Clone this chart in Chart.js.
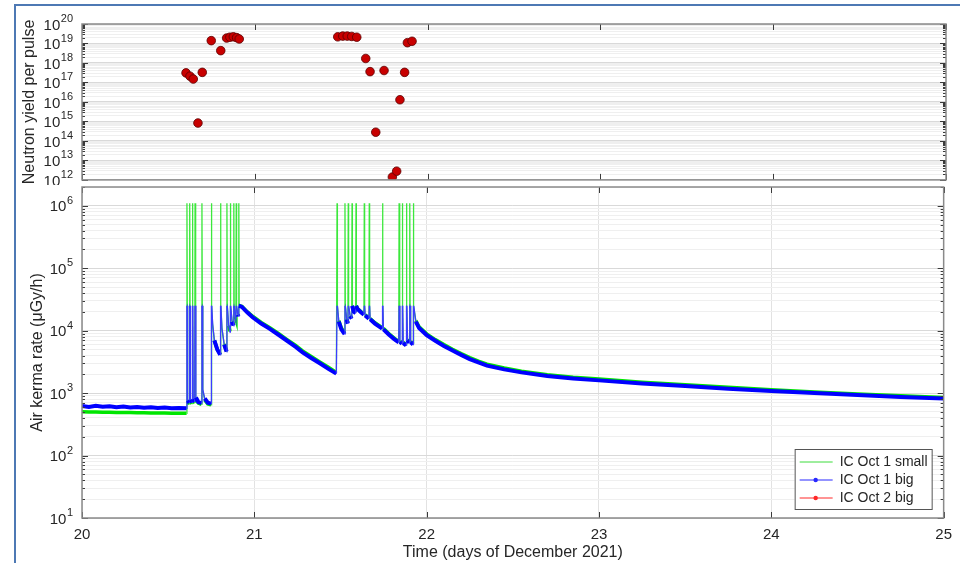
<!DOCTYPE html>
<html>
<head>
<meta charset="utf-8">
<script src="https://cdn.jsdelivr.net/npm/chart.js@4.4.1/dist/chart.umd.min.js"></script>
<style>
  html, body { margin: 0; padding: 0; background: #fff; }
  #page { position: relative; width: 960px; height: 563px; overflow: hidden; }
  #frame { position: absolute; left: 14px; top: 4px; width: 960px; height: 570px;
           border-left: 2px solid #4e79b4; border-top: 2px solid #4e79b4; }
  canvas { position: absolute; left: 0; }
  #yieldChart { top: 0; width: 960px; height: 185px; }
  #rateChart { top: 185px; width: 960px; height: 378px; }
</style>
</head>
<body>
<div id="page">
  <div id="frame"></div>
  <canvas id="yieldChart" width="960" height="185"></canvas>
  <canvas id="rateChart" width="960" height="378"></canvas>
</div>
<script>
// ---- data ----

// shots: day of December 2021 and neutron yield per pulse
const shotDay = [20.602, 20.625, 20.644, 20.671, 20.696, 20.748, 20.803, 20.837, 20.856, 20.876, 20.895, 20.910,
                 21.480, 21.509, 21.535, 21.561, 21.590, 21.642, 21.667, 21.700, 21.748, 21.796, 21.821, 21.840,
                 21.867, 21.883, 21.910];
const shotYield = [3.1e17, 2.1e17, 1.5e17, 8.3e14, 3.3e17, 1.4e19, 4.3e18, 1.9e19, 2.1e19, 2.2e19, 2.0e19, 1.7e19,
                   2.2e19, 2.4e19, 2.4e19, 2.3e19, 2.1e19, 1.7e18, 3.6e17, 2.8e14, 4.1e17, 1.4e12, 2.8e12, 1.3e16,
                   3.3e17, 1.1e19, 1.3e19];

// x axis days, decade exponents of the two log axes
const dayTicks = [20, 21, 22, 23, 24, 25];
const yieldExp = [12, 13, 14, 15, 16, 17, 18, 19, 20];
const rateExp = [1, 2, 3, 4, 5, 6];

// ionisation chamber readings (uGy/h) on a shared time base
const traceDay = [
  // background
  20.00, 20.04, 20.08, 20.12, 20.16, 20.20, 20.24, 20.28, 20.32, 20.36, 20.40, 20.44, 20.48, 20.52, 20.56, 20.607,
  // first shot day
  20.609, 20.611, 20.613, 20.623, 20.625, 20.627, 20.629, 20.639,
  20.641, 20.643, 20.645, 20.654, 20.656, 20.658, 20.661, 20.675,
  20.694, 20.696, 20.698, 20.701, 20.712, 20.730, 20.749, 20.751,
  20.753, 20.758, 20.768, 20.785, 20.802, 20.804, 20.806, 20.812,
  20.825, 20.839, 20.841, 20.843, 20.851, 20.859, 20.861, 20.863,
  20.871, 20.879, 20.881, 20.883, 20.889, 20.893, 20.895, 20.897,
  20.904, 20.908, 20.910, 20.912, 20.928,
  // overnight decay
  20.96, 20.99, 21.04, 21.09, 21.14, 21.19, 21.24, 21.28, 21.33, 21.38, 21.43, 21.476,
  // second shot day
  21.480, 21.482, 21.490, 21.505, 21.524, 21.526, 21.528, 21.536,
  21.543, 21.545, 21.547, 21.556, 21.565, 21.567, 21.569, 21.578,
  21.588, 21.590, 21.592, 21.600, 21.620, 21.636, 21.638, 21.640,
  21.643, 21.665, 21.667, 21.669, 21.672, 21.700, 21.742, 21.744,
  21.746, 21.749, 21.780, 21.810, 21.838, 21.840, 21.842, 21.845,
  21.857, 21.859, 21.861, 21.864, 21.881, 21.883, 21.885, 21.889,
  21.900, 21.902, 21.904, 21.907, 21.921, 21.923, 21.925,
  // long decay
  21.937, 21.956, 22.00, 22.05, 22.10, 22.15, 22.20, 22.25, 22.30, 22.35, 22.45, 22.55,
  22.70, 22.85, 23.00, 23.25, 23.50, 23.75, 24.00, 24.25, 24.50, 24.75, 25.00
];

const bigRate = [
  620, 600, 625, 605, 615, 595, 610, 590, 600, 585, 595, 580, 590, 575, 580, 570,
  25000, 25000, 760, 700, 25000, 25000, 780, 710,
  25000, 25000, 800, 720, 25000, 25000, 850, 720,
  690, 25000, 25000, 1150, 820, 700, 680, 25000,
  25000, 13000, 7000, 5000, 4100, 25000, 25000, 11000,
  6000, 4600, 25000, 25000, 12000, 9500, 25000, 25000,
  14000, 12000, 25000, 25000, 17000, 15000, 25000, 25000,
  18000, 17000, 25000, 25000, 24000,
  19500, 16400, 13000, 10700, 8600, 6900, 5500, 4500, 3650, 3000, 2450, 2050,
  25000, 25000, 14000, 10500, 8800, 25000, 25000, 15000,
  13000, 25000, 25000, 17000, 15500, 25000, 25000, 20000,
  19000, 25000, 25000, 22000, 19500, 18000, 25000, 25000,
  17500, 15600, 25000, 25000, 15200, 13000, 10800, 25000,
  25000, 10500, 8700, 7400, 6500, 25000, 25000, 6600,
  6200, 25000, 25000, 6300, 5800, 25000, 25000, 7000,
  6400, 25000, 25000, 6500, 6000, 25000, 25000,
  14000, 11000, 8500, 6900, 5700, 4800, 4100, 3500, 3100, 2750, 2400, 2150,
  1880, 1720, 1600, 1430, 1300, 1180, 1080, 1000, 930, 870, 820
];

const smallRate = [
  505, 500, 500, 495, 495, 490, 490, 488, 485, 485, 482, 480, 480, 478, 476, 475,
  1.1e6, 25000, 720, 670, 1.1e6, 25000, 740, 680,
  1.1e6, 25000, 760, 690, 1.1e6, 25000, 810, 690,
  660, 1.1e6, 25000, 1100, 780, 670, 650, 1.1e6,
  25000, 12500, 7000, 5000, 4200, 1.1e6, 25000, 11000,
  6100, 4700, 1.1e6, 25000, 12000, 9800, 1.1e6, 25000,
  14000, 12500, 1.1e6, 25000, 17000, 15500, 1.1e6, 25000,
  18000, 17500, 1.1e6, 25000, 24500,
  20000, 17000, 13500, 11200, 9000, 7200, 5800, 4750, 3850, 3150, 2600, 2150,
  1.1e6, 25000, 14500, 11000, 9200, 1.1e6, 25000, 15500,
  13500, 1.1e6, 25000, 17500, 16000, 1.1e6, 25000, 20500,
  19500, 1.1e6, 25000, 22500, 20000, 18500, 1.1e6, 25000,
  18000, 16000, 1.1e6, 25000, 15600, 13400, 11200, 1.1e6,
  25000, 10900, 9000, 7700, 6700, 1.1e6, 25000, 6800,
  6400, 1.1e6, 25000, 6500, 6000, 1.1e6, 25000, 7200,
  6600, 1.1e6, 25000, 6700, 6200, 1.1e6, 25000,
  14500, 11500, 8900, 7200, 6000, 5050, 4300, 3700, 3250, 2900, 2520, 2250,
  1970, 1800, 1680, 1500, 1360, 1240, 1130, 1045, 970, 905, 850
];

// ---- helpers ----
const FONT = '"Liberation Sans", Arial, Helvetica, sans-serif';
const TEXT = '#262626';
Chart.defaults.font.family = FONT;
Chart.defaults.color = TEXT;

function isDecade(v) {
  const l = Math.log10(v);
  return Math.abs(l - Math.round(l)) < 1e-6;
}

// 1..9 x 10^n ticks between min and max
function logTicks(min, max) {
  const out = [];
  for (let e = Math.floor(Math.log10(min)); e <= Math.ceil(Math.log10(max)); e++) {
    for (let m = 1; m < 10; m++) {
      const v = m * Math.pow(10, e);
      if (v >= min * 0.9999 && v <= max * 1.0001) out.push({ value: v });
    }
  }
  return out;
}

function gridColor(c) {
  if (!c.tick) return '#eeeeee';
  return isDecade(c.tick.value) ? '#d9d9d9' : '#efefef';
}

function steep(c) {
  return Math.abs(c.p1.x - c.p0.x) * 4 < Math.abs(c.p1.y - c.p0.y);
}

// matlab style box, inside ticks and 10^n labels
const axesDecor = {
  id: 'axesDecor',
  afterDraw(chart, args, opts) {
    const { ctx, chartArea: a, scales: { x, y } } = chart;
    ctx.save();
    ctx.strokeStyle = '#3a3a3a';
    ctx.lineWidth = 1;
    ctx.beginPath();
    y.ticks.forEach(t => {
      const py = Math.round(y.getPixelForValue(t.value)) + 0.5;
      const len = isDecade(t.value) ? 6 : 3;
      ctx.moveTo(a.left, py); ctx.lineTo(a.left + len, py);
      ctx.moveTo(a.right, py); ctx.lineTo(a.right - len, py);
    });
    dayTicks.forEach(d => {
      const px = Math.round(x.getPixelForValue(d)) + 0.5;
      ctx.moveTo(px, a.top); ctx.lineTo(px, a.top + 6);
      ctx.moveTo(px, a.bottom); ctx.lineTo(px, a.bottom - 6);
    });
    ctx.stroke();

    ctx.strokeStyle = '#8a8a8a';
    ctx.lineWidth = 1.5;
    ctx.strokeRect(a.left, a.top, a.width, a.height);

    ctx.fillStyle = TEXT;
    ctx.textBaseline = 'middle';
    opts.exps.forEach(e => {
      const py = y.getPixelForValue(Math.pow(10, e));
      ctx.font = '11px ' + FONT;
      const ew = ctx.measureText(String(e)).width;
      ctx.textAlign = 'left';
      ctx.fillText(String(e), opts.labelRight - ew, py - 5);
      ctx.font = '15px ' + FONT;
      ctx.textAlign = 'right';
      ctx.fillText('10', opts.labelRight - ew - 0.5, py + 1.5);
    });
    ctx.restore();
  }
};

// legend box in the lower right corner
const legendBox = {
  id: 'legendBox',
  afterDraw(chart) {
    const { ctx, chartArea: a } = chart;
    const w = 137, h = 60;
    const x0 = a.right - 12 - w, y0 = a.bottom - 9 - h;
    ctx.save();
    ctx.fillStyle = '#fff';
    ctx.fillRect(x0, y0, w, h);
    ctx.strokeStyle = '#555';
    ctx.lineWidth = 1;
    ctx.strokeRect(x0 + 0.5, y0 + 0.5, w, h);
    ctx.font = '14px ' + FONT;
    ctx.textBaseline = 'middle';
    ctx.textAlign = 'left';
    chart.data.datasets.forEach((ds, i) => {
      const yy = y0 + 13 + i * 18;
      ctx.strokeStyle = ds.legendColor;
      ctx.lineWidth = 1;
      ctx.beginPath();
      ctx.moveTo(x0 + 5, yy); ctx.lineTo(x0 + 38, yy);
      ctx.stroke();
      if (ds.legendMarker) {
        ctx.fillStyle = ds.legendColor;
        ctx.beginPath();
        ctx.arc(x0 + 21, yy, 2.2, 0, Math.PI * 2);
        ctx.fill();
      }
      ctx.fillStyle = TEXT;
      ctx.fillText(ds.label, x0 + 45, yy + 0.5);
    });
    ctx.restore();
  }
};

// ---- neutron yield panel ----
new Chart(document.getElementById('yieldChart'), {
  type: 'scatter',
  data: {
    datasets: [{
      label: 'Neutron yield',
      data: shotDay.map((d, i) => ({ x: d, y: shotYield[i] })),
      pointRadius: 4.3,
      pointBackgroundColor: '#c80000',
      pointBorderColor: '#5a0000',
      pointBorderWidth: 0.8
    }]
  },
  options: {
    responsive: false,
    animation: false,
    layout: { padding: { top: 24, right: 14, bottom: 4, left: 0 } },
    plugins: {
      legend: { display: false },
      tooltip: { enabled: false },
      axesDecor: { exps: yieldExp, labelRight: 73 }
    },
    scales: {
      x: { type: 'linear', min: 20, max: 25, display: false },
      y: {
        type: 'logarithmic',
        min: 1e12,
        max: 1e20,
        afterBuildTicks: s => { s.ticks = logTicks(1e12, 1e20); },
        afterFit: s => { s.width = 82; },
        ticks: { display: false },
        border: { display: false },
        grid: { color: gridColor, drawTicks: false },
        title: {
          display: true,
          text: 'Neutron yield per pulse',
          color: TEXT,
          font: { size: 16 },
          padding: { top: 20, bottom: 0 }
        }
      }
    }
  },
  plugins: [axesDecor]
});

// ---- air kerma rate panel ----
// thick trace, thin lines where a pulse makes it jump
const lineSegment = (thick, thin, width) => ({
  borderWidth: c => steep(c) ? 1.3 : width,
  borderColor: c => steep(c) ? thin : thick
});

new Chart(document.getElementById('rateChart'), {
  type: 'line',
  data: {
    datasets: [{
      label: 'IC Oct 1 small',
      data: traceDay.map((d, i) => ({ x: d, y: smallRate[i] })),
      borderColor: 'rgb(0,230,0)',
      legendColor: 'rgb(60,220,60)',
      legendMarker: false,
      segment: lineSegment('rgb(0,230,0)', 'rgb(60,232,60)', 3.5),
      pointRadius: 0,
      order: 3
    }, {
      label: 'IC Oct 1 big',
      data: traceDay.map((d, i) => ({ x: d, y: bigRate[i] })),
      borderColor: 'rgb(0,0,255)',
      legendColor: 'rgb(40,40,255)',
      legendMarker: true,
      segment: lineSegment('rgb(0,0,255)', 'rgb(60,60,255)', 4),
      pointRadius: 0,
      order: 1
    }, {
      label: 'IC Oct 2 big',
      data: [],
      borderColor: 'rgb(255,0,0)',
      legendColor: 'rgb(255,40,40)',
      legendMarker: true,
      pointRadius: 0,
      order: 2
    }]
  },
  options: {
    responsive: false,
    animation: false,
    layout: { padding: { top: 2, right: 14, bottom: 0, left: 0 } },
    plugins: {
      legend: { display: false },
      tooltip: { enabled: false },
      axesDecor: { exps: rateExp, labelRight: 73 }
    },
    scales: {
      x: {
        type: 'linear',
        min: 20,
        max: 25,
        afterBuildTicks: s => { s.ticks = dayTicks.map(d => ({ value: d })); },
        afterFit: s => { s.height = 45; },
        ticks: { color: TEXT, font: { size: 15 }, padding: 8, callback: v => String(v) },
        border: { display: false },
        grid: { color: '#e2e2e2', drawTicks: false },
        title: {
          display: true,
          text: 'Time (days of December 2021)',
          color: TEXT,
          font: { size: 16 },
          padding: { top: 0, bottom: 1 }
        }
      },
      y: {
        type: 'logarithmic',
        min: 10,
        max: 2e6,
        afterBuildTicks: s => { s.ticks = logTicks(10, 2e6); },
        afterFit: s => { s.width = 82; },
        ticks: { display: false },
        border: { display: false },
        grid: { color: gridColor, drawTicks: false },
        title: {
          display: true,
          text: 'Air kerma rate (\u03bcGy/h)',
          color: TEXT,
          font: { size: 16 },
          padding: { top: 28, bottom: 0 }
        }
      }
    }
  },
  plugins: [axesDecor, legendBox]
});
</script>
</body>
</html>
